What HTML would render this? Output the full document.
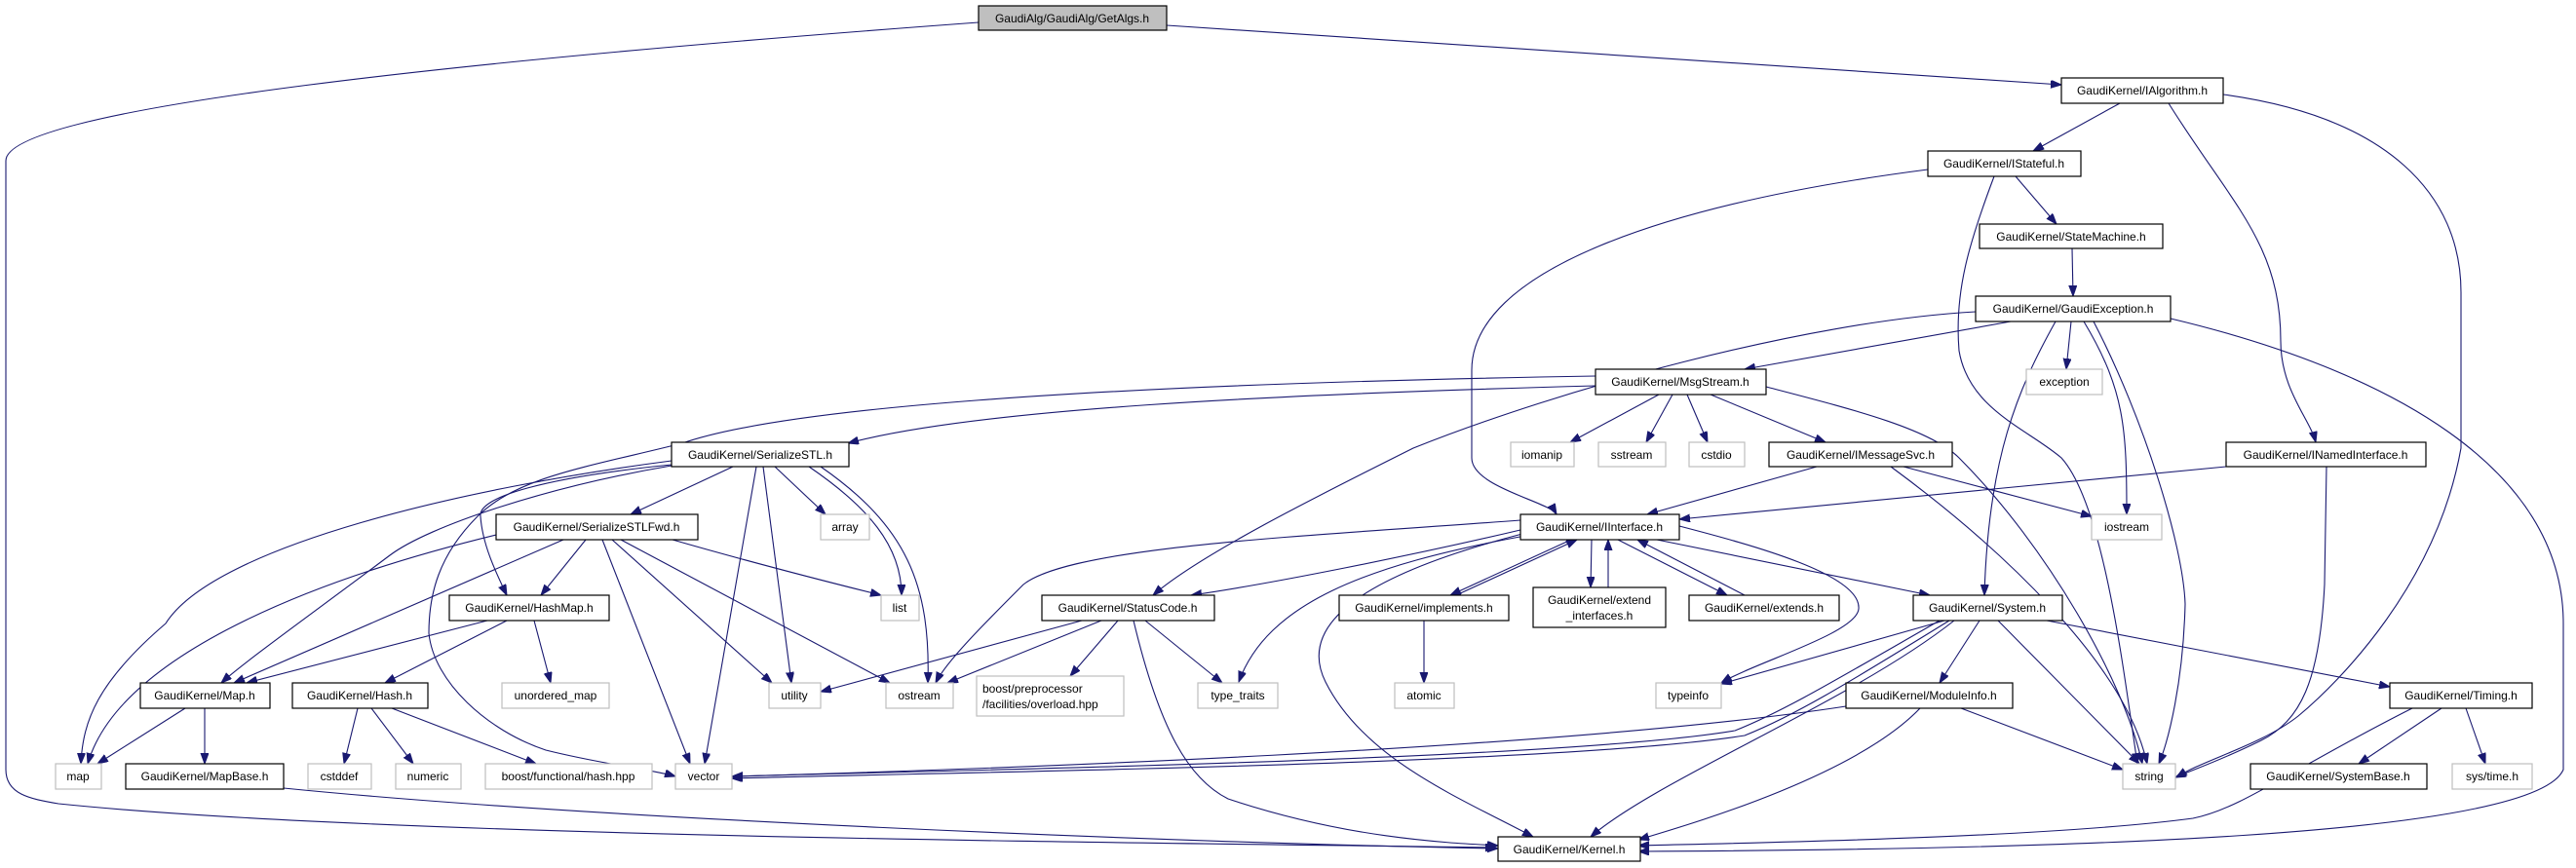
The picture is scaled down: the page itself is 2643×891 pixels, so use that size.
<!DOCTYPE html>
<html><head><meta charset="utf-8"><style>
html,body{margin:0;padding:0;background:#fff;}
svg{display:block;}
text{font-family:"Liberation Sans",sans-serif;font-size:12px;fill:#000;}
</style></head><body>
<svg width="2643" height="891" viewBox="0 0 2643 891" xmlns="http://www.w3.org/2000/svg">
<defs>
<marker id="a" markerWidth="12" markerHeight="10" refX="11" refY="4" orient="auto" markerUnits="userSpaceOnUse">
<path d="M0,0 L11,4 L0,8 z" fill="#191970" stroke="#191970"/>
</marker>
</defs>
<g fill="none" stroke="#191970" stroke-width="1.1" marker-end="url(#a)">
<path d="M1004,23 C500,60 6,110 6,165 L6,790 C6,815 30,820 60,825 C400,860 1200,865 1535,870"/>
<path d="M1197,26 L2115,87"/>
<path d="M2175,106 L2086,155"/>
<path d="M2225,106 C2290,210 2340,250 2340,350 C2340,400 2370,430 2376,454"/>
<path d="M2281,97 C2450,120 2525,200 2525,300 L2525,460 C2500,600 2400,700 2358,735 C2320,765 2260,780 2233,798"/>
<path d="M1978,174 C1700,210 1510,280 1510,380 L1510,470 C1510,500 1590,515 1597,528"/>
<path d="M2046,181 C2020,250 2005,300 2010,360 C2020,420 2080,440 2115,470 C2160,520 2180,700 2193,784"/>
<path d="M2068,181 L2110,230"/>
<path d="M2126,255 L2127,304"/>
<path d="M2063,330 L1790,379"/>
<path d="M2027,320 C1850,330 1600,400 1450,460 C1350,510 1230,570 1183,611"/>
<path d="M2125,330 L2120,379"/>
<path d="M2138,330 C2180,400 2182,440 2182,528"/>
<path d="M2109,330 C2070,400 2040,470 2036,611"/>
<path d="M2148,330 C2200,430 2240,560 2242,620 C2240,700 2225,760 2215,784"/>
<path d="M2227,327 C2450,380 2630,480 2630,640 L2630,790 C2600,860 2100,872 1681,874"/>
<path d="M1637,396 C1300,405 1000,420 870,455"/>
<path d="M1637,386 C1100,395 800,420 700,455 C600,480 530,490 490,530 C450,570 440,610 440,650 C445,700 500,750 560,770 C620,785 670,790 693,797"/>
<path d="M1702,405 L1611,454"/>
<path d="M1716,405 L1689,454"/>
<path d="M1731,405 L1752,454"/>
<path d="M1755,405 L1873,454"/>
<path d="M1812,397 C1900,420 1980,440 2010,470 C2100,560 2180,700 2198,784"/>
<path d="M1940,479 C2050,560 2180,680 2203,784"/>
<path d="M1953,479 L2146,530"/>
<path d="M1864,479 L1690,528"/>
<path d="M2284,479 L1723,533"/>
<path d="M2387,479 L2385,600 C2380,700 2360,740 2320,760 C2280,780 2250,790 2232,798"/>
<path d="M1560,544 C1450,570 1300,600 1222,611"/>
<path d="M1560,534 C1350,550 1100,560 1050,600 C1010,640 970,680 960,701"/>
<path d="M1565,550 C1400,580 1300,620 1271,700"/>
<path d="M1562,548 C1400,590 1330,640 1360,700 C1400,780 1500,820 1573,859"/>
<path d="M1612,554 L1488,611"/>
<path d="M1494,611 L1618,554"/>
<path d="M1633,554 L1632,603"/>
<path d="M1650,603 L1650,554"/>
<path d="M1660,554 L1772,611"/>
<path d="M1790,611 L1680,554"/>
<path d="M1700,554 L1980,611"/>
<path d="M1723,540 C1800,560 1910,590 1907,625 C1905,650 1800,680 1766,701"/>
<path d="M1461,637 L1461,701"/>
<path d="M1995,637 L1766,702"/>
<path d="M1990,637 C1880,700 1830,730 1780,750 C1600,780 1000,790 751,797"/>
<path d="M2000,637 C1890,705 1840,735 1790,755 C1600,785 1000,792 751,799"/>
<path d="M2005,637 C1900,720 1700,800 1632,859"/>
<path d="M2031,637 L1990,701"/>
<path d="M2050,637 L2195,784"/>
<path d="M2100,637 L2452,705"/>
<path d="M1894,725 C1600,770 1000,790 751,797"/>
<path d="M1970,727 C1900,800 1720,850 1681,862"/>
<path d="M2012,727 L2178,790"/>
<path d="M2475,727 C2350,790 2300,830 2250,840 C2100,860 1800,865 1681,868"/>
<path d="M2505,727 L2420,784"/>
<path d="M2530,727 L2550,784"/>
<path d="M1110,637 L842,710"/>
<path d="M1130,637 L972,701"/>
<path d="M1147,637 L1098,694"/>
<path d="M1175,637 L1254,701"/>
<path d="M1163,637 C1190,750 1220,800 1260,820 C1380,860 1480,865 1537,868"/>
<path d="M752,479 L647,528"/>
<path d="M795,479 L847,528"/>
<path d="M830,479 C890,520 925,560 925,611"/>
<path d="M842,479 C930,540 955,600 952,701"/>
<path d="M783,479 L812,701"/>
<path d="M776,479 L723,784"/>
<path d="M689,473 C480,500 220,560 170,640 C100,700 85,740 83,784"/>
<path d="M689,478 C560,500 440,540 400,570 C320,630 250,680 227,701"/>
<path d="M689,477 C560,490 490,510 493,530 C495,560 510,590 520,611"/>
<path d="M509,549 C300,600 120,680 90,784"/>
<path d="M578,554 L240,701"/>
<path d="M601,554 L555,611"/>
<path d="M618,554 L708,784"/>
<path d="M628,554 L792,701"/>
<path d="M637,554 L913,701"/>
<path d="M690,554 C780,580 860,600 904,611"/>
<path d="M500,637 L253,701"/>
<path d="M520,637 L395,701"/>
<path d="M548,637 L565,701"/>
<path d="M190,727 L100,784"/>
<path d="M210,727 L210,784"/>
<path d="M367,727 L353,784"/>
<path d="M381,727 L424,784"/>
<path d="M402,727 L550,784"/>
<path d="M291,809 C600,840 1200,865 1537,871"/>
</g>
<g stroke-width="1.2">
<rect x="1004" y="6" width="193" height="25" fill="#bfbfbf" stroke="#000"/>
<g fill="#fff" stroke="#000">
<rect x="2115" y="80" width="166" height="26"/>
<rect x="1978" y="155" width="157" height="26"/>
<rect x="2031" y="230" width="188" height="25"/>
<rect x="2027" y="304" width="200" height="26"/>
<rect x="1637" y="379" width="175" height="26"/>
<rect x="689" y="454" width="182" height="25"/>
<rect x="1815" y="454" width="188" height="25"/>
<rect x="2284" y="454" width="205" height="25"/>
<rect x="509" y="528" width="207" height="26"/>
<rect x="1560" y="528" width="163" height="26"/>
<rect x="461" y="611" width="164" height="26"/>
<rect x="1069" y="611" width="177" height="26"/>
<rect x="1374" y="611" width="174" height="26"/>
<rect x="1573" y="603" width="136" height="41"/>
<rect x="1733" y="611" width="154" height="26"/>
<rect x="1963" y="611" width="153" height="26"/>
<rect x="144" y="701" width="133" height="26"/>
<rect x="300" y="701" width="139" height="26"/>
<rect x="1894" y="701" width="171" height="26"/>
<rect x="2452" y="701" width="146" height="26"/>
<rect x="129" y="784" width="162" height="26"/>
<rect x="2309" y="784" width="181" height="26"/>
<rect x="1537" y="859" width="146" height="25"/>
</g>
<g fill="#fff" stroke="#bfbfbf">
<rect x="2079" y="379" width="78" height="26"/>
<rect x="1550" y="454" width="65" height="25"/>
<rect x="1640" y="454" width="69" height="25"/>
<rect x="1733" y="454" width="57" height="25"/>
<rect x="842" y="528" width="50" height="26"/>
<rect x="2146" y="528" width="72" height="26"/>
<rect x="904" y="611" width="39" height="26"/>
<rect x="515" y="701" width="110" height="26"/>
<rect x="789" y="701" width="53" height="26"/>
<rect x="909" y="701" width="69" height="26"/>
<rect x="1002" y="694" width="151" height="41"/>
<rect x="1229" y="701" width="82" height="26"/>
<rect x="1431" y="701" width="61" height="26"/>
<rect x="1699" y="701" width="67" height="26"/>
<rect x="57" y="784" width="47" height="26"/>
<rect x="316" y="784" width="65" height="26"/>
<rect x="406" y="784" width="67" height="26"/>
<rect x="498" y="784" width="171" height="26"/>
<rect x="693" y="784" width="58" height="26"/>
<rect x="2178" y="784" width="54" height="26"/>
<rect x="2516" y="784" width="82" height="26"/>
</g>
</g>
<g text-anchor="middle">
<text x="1100" y="23">GaudiAlg/GaudiAlg/GetAlgs.h</text>
<text x="2198" y="97">GaudiKernel/IAlgorithm.h</text>
<text x="2056" y="172">GaudiKernel/IStateful.h</text>
<text x="2125" y="247">GaudiKernel/StateMachine.h</text>
<text x="2127" y="321">GaudiKernel/GaudiException.h</text>
<text x="1724" y="396">GaudiKernel/MsgStream.h</text>
<text x="2118" y="396">exception</text>
<text x="780" y="471">GaudiKernel/SerializeSTL.h</text>
<text x="1582" y="471">iomanip</text>
<text x="1674" y="471">sstream</text>
<text x="1761" y="471">cstdio</text>
<text x="1909" y="471">GaudiKernel/IMessageSvc.h</text>
<text x="2386" y="471">GaudiKernel/INamedInterface.h</text>
<text x="612" y="545">GaudiKernel/SerializeSTLFwd.h</text>
<text x="867" y="545">array</text>
<text x="1641" y="545">GaudiKernel/IInterface.h</text>
<text x="2182" y="545">iostream</text>
<text x="543" y="628">GaudiKernel/HashMap.h</text>
<text x="923" y="628">list</text>
<text x="1157" y="628">GaudiKernel/StatusCode.h</text>
<text x="1461" y="628">GaudiKernel/implements.h</text>
<text x="1641" y="620">GaudiKernel/extend</text>
<text x="1641" y="636">_interfaces.h</text>
<text x="1810" y="628">GaudiKernel/extends.h</text>
<text x="2039" y="628">GaudiKernel/System.h</text>
<text x="210" y="718">GaudiKernel/Map.h</text>
<text x="369" y="718">GaudiKernel/Hash.h</text>
<text x="570" y="718">unordered_map</text>
<text x="815" y="718">utility</text>
<text x="943" y="718">ostream</text>
<text x="1270" y="718">type_traits</text>
<text x="1461" y="718">atomic</text>
<text x="1732" y="718">typeinfo</text>
<text x="1979" y="718">GaudiKernel/ModuleInfo.h</text>
<text x="2525" y="718">GaudiKernel/Timing.h</text>
<text x="80" y="801">map</text>
<text x="210" y="801">GaudiKernel/MapBase.h</text>
<text x="348" y="801">cstddef</text>
<text x="439" y="801">numeric</text>
<text x="583" y="801">boost/functional/hash.hpp</text>
<text x="722" y="801">vector</text>
<text x="2205" y="801">string</text>
<text x="2399" y="801">GaudiKernel/SystemBase.h</text>
<text x="2557" y="801">sys/time.h</text>
<text x="1610" y="876">GaudiKernel/Kernel.h</text>
</g>
<text x="1008" y="711">boost/preprocessor</text>
<text x="1008" y="727">/facilities/overload.hpp</text>
</svg>
</body></html>
